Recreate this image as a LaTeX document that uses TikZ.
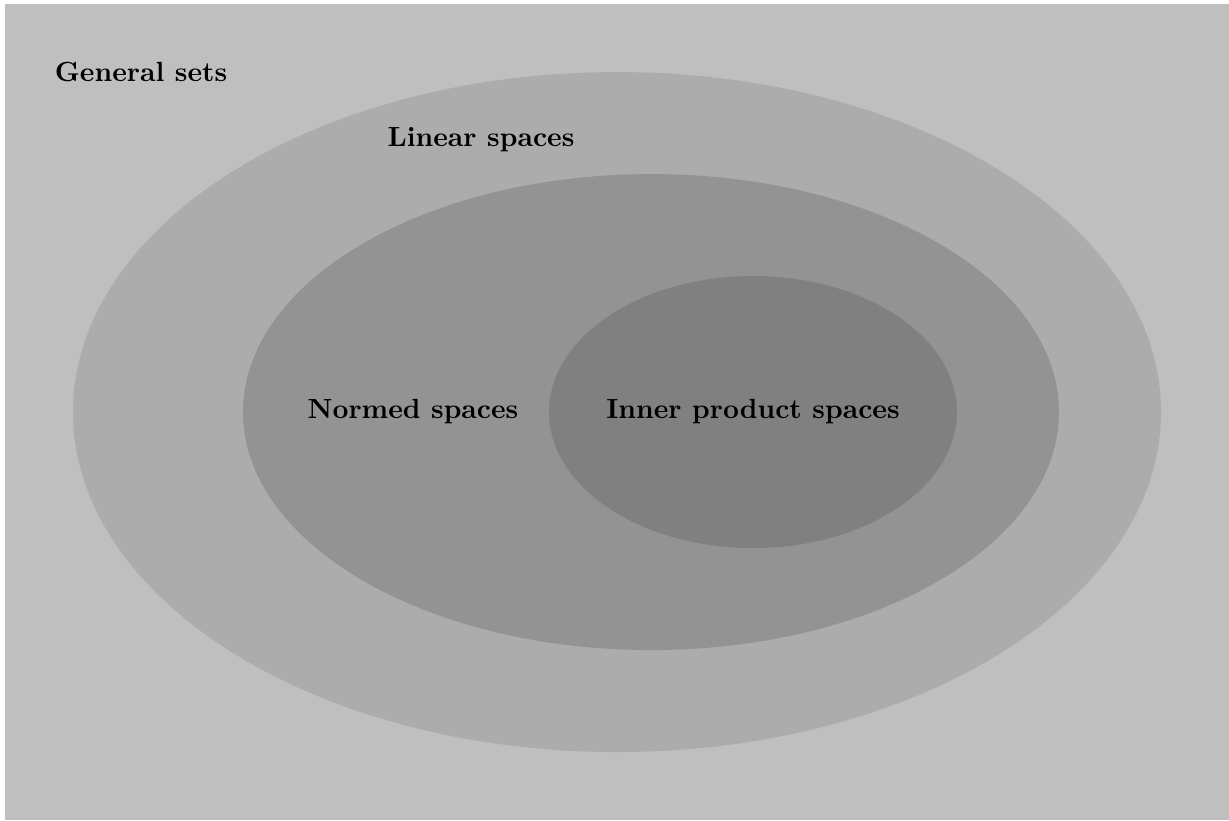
\documentclass[tikz,border=0pt]{standalone}
\begin{document}
\begin{tikzpicture}[
  lbl/.style={font=\bfseries, inner sep=0pt, scale=0.58}
]
\useasboundingbox (-4.537,-3) rectangle (4.5,3.03);
\fill[gray!50] (-4.5,-3) rectangle (4.5,3);
\fill[gray!65] (0,0) ellipse [x radius=4, y radius=2.5];
\fill[gray!85] (0.25,0) ellipse [x radius=3, y radius=1.75];
\fill[gray] (1,0) ellipse [x radius=1.5, y radius=1];
\node[lbl] (gen) at (-3.5,2.5) {General sets};
\node[lbl] (lin) at (-1,2) {Linear spaces};
\node[lbl] (nor) at (-1.5,0) {Normed spaces};
\node[lbl] (inn) at (1,0) {Inner product spaces};
\end{tikzpicture}
\end{document}
